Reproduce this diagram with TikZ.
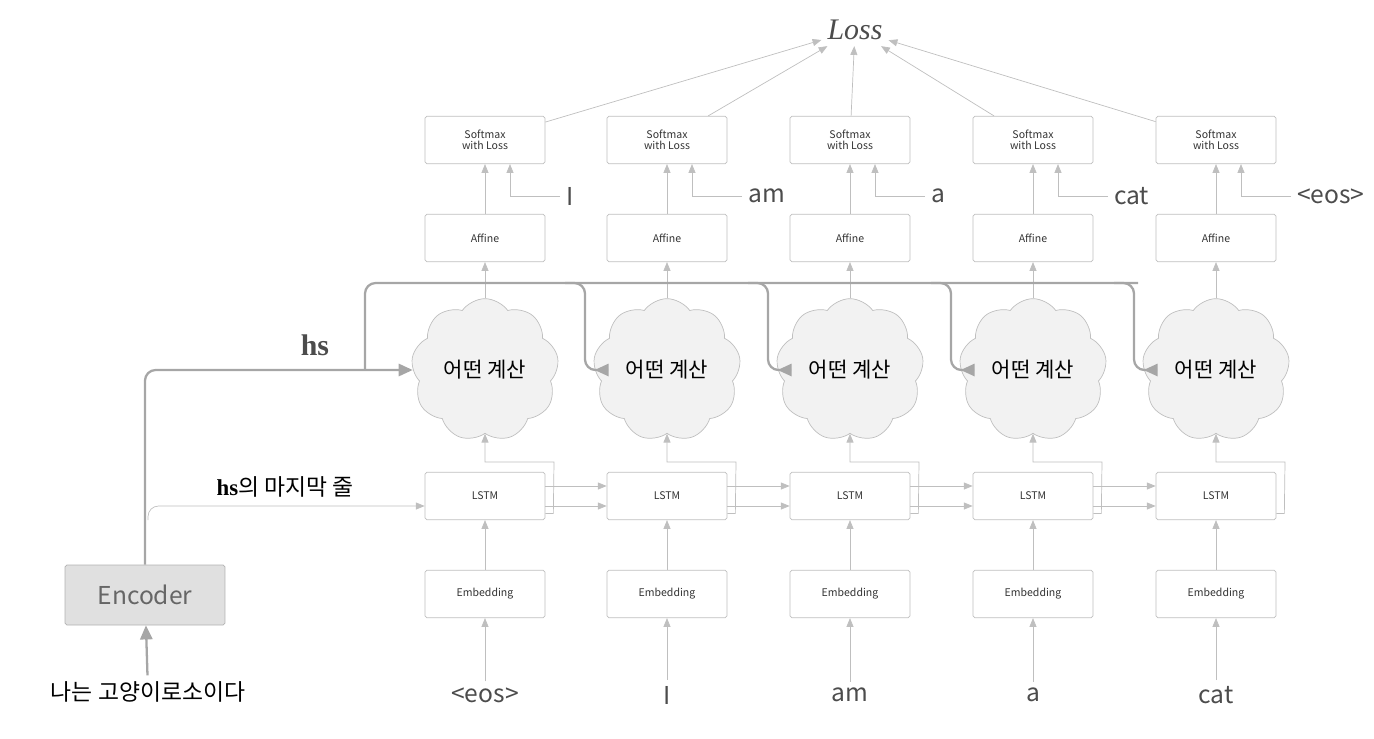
\documentclass[tikz,border=0pt]{standalone}
\usepackage{fontspec}
\setmainfont{Noto Sans CJK KR}
\newfontfamily\seriffont{Liberation Serif}
\usetikzlibrary{shapes.symbols, arrows.meta, positioning}

\begin{document}
\begin{tikzpicture}[
    	x=0.02cm, y=-0.02cm,
    	box/.style={rectangle, rounded corners=1pt, minimum width=2.4cm, minimum height=0.95cm, draw=black!25, text=black!80, font=\fontsize{6}{6.5}\selectfont, align=center},
    	calc/.style={cloud, cloud puffs=9, cloud puff arc=110, aspect=1.05, minimum width=2.5cm, minimum height=2.45cm, draw=black!25, fill=black!5, font=\fontsize{12}{14}\selectfont},
    	word/.style={text=black!70, font=\fontsize{14}{15}\selectfont},
    	arrow/.style={draw=black!25, -{Triangle[length=5pt,width=4pt]}},
    	hsarrow/.style={draw=black!35, line width=1.3pt, rounded corners=6pt, -{Triangle[length=8pt,width=7pt]}}
    	]
    	\useasboundingbox (0,0) rectangle (1374,738);
    	
    	% 손실
    	\node (loss) at (855,30) {\fontsize{17}{18}\selectfont\seriffont\itshape\color{black!70}Loss};
    	
    	% 인코더
    	\node (enc) [rectangle, rounded corners=1pt, minimum width=3.2cm, minimum height=1.2cm, draw=black!30, fill=black!12, text=black!60, font=\fontsize{14}{15}\selectfont] at (145,595) {Encoder};
    	\node (src) at (148,692) {\fontsize{13}{14}\selectfont 나는 고양이로소이다};
    	\draw [hsarrow] (src) -- (enc);
    	
    	% 열 (시간 단계)
    	\foreach \i/\x/\inp/\out in {1/485/{<eos>}/I, 2/667/I/am, 3/850/am/a, 4/1033/a/cat, 5/1216/cat/{<eos>}} {
    		\node (sm\i) [box] at (\x,140) {Softmax\\with Loss};
    		\node (af\i) [box] at (\x,238) {Affine};
    		\node (cl\i) [calc] at (\x,370) {어떤 계산};
    		\node (ls\i) [box] at (\x,496) {LSTM};
    		\node (em\i) [box] at (\x,594) {Embedding};
    		\node (in\i) [word] at (\x,695) {\inp};
    		\node (tg\i) [word, anchor=west] at (\x+75,196) {\out};
    		\coordinate (tc\i) at (\x+25,196);
    		
    		\draw [arrow] (in\i) -- (em\i);
    		\draw [arrow] (em\i) -- (ls\i);
    		\draw [arrow] ([yshift=-0.35cm]ls\i.east) -- ++(8,0) -- (\x+69,462) -- (\x,462) -- (cl\i.south);
    		\draw [arrow] (cl\i) -- (af\i);
    		\draw [arrow] (af\i) -- (sm\i);
    		\draw [arrow] (tg\i) -| (sm\i.south -| tc\i);
    		\draw [arrow] (sm\i) -- (loss);
    	}
    	
    	% LSTM 연결
    	\foreach \i/\j in {1/2, 2/3, 3/4, 4/5} {
    		\draw [arrow] ([yshift=0.2cm]ls\i.east) -- ([yshift=0.2cm]ls\j.west);
    		\draw [arrow] ([yshift=-0.2cm]ls\i.east) -- ([yshift=-0.2cm]ls\j.west);
    	}
    	
    	% hs 경로
    	\draw [hsarrow] (enc.north) |- (cl1.west);
    	\draw [hsarrow, -] (365,370) |- (1138,283);
    	\foreach \i/\x in {2/585, 3/768, 4/951, 5/1134} {
    		\draw [hsarrow] (\x-20,283) -| (\x,320) |- (cl\i.west);
    	}
    	\node (hs) at (315,345) {\fontsize{17}{18}\selectfont\seriffont\bfseries\color{black!70}hs};
    	
    	% hs의 마지막 줄
    	\draw [arrow, rounded corners=6pt] (148,520) |- ([yshift=-0.2cm]ls1.west);
    	\node (last) at (285,487) {\fontsize{13}{14}\selectfont{\seriffont\bfseries hs}의 마지막 줄};
    	
    \end{tikzpicture}
\end{document}
